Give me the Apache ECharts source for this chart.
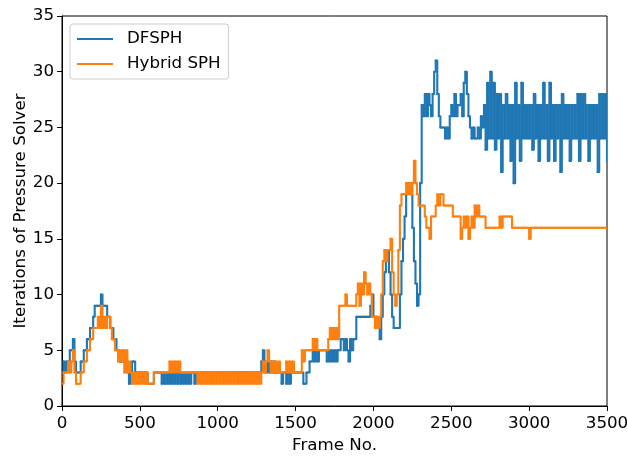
<!DOCTYPE html>
<html>
<head>
<meta charset="utf-8">
<title>Pressure solver iterations</title>
<script src="https://cdn.jsdelivr.net/npm/echarts@6/dist/echarts.min.js"></script>
<style>
  html, body { margin: 0; padding: 0; background: #fff; }
  #chart { width: 628px; height: 456px; }
</style>
</head>
<body>
<div id="chart"></div>
<script>
// frames are sampled every 10 frames
var frameStep = 10;
var xTicks = [0, 500, 1000, 1500, 2000, 2500, 3000, 3500];
var yTicks = [0, 5, 10, 15, 20, 25, 30, 35];
var seriesNames = ['DFSPH', 'Hybrid SPH'];
var seriesColors = ['#1f77b4', '#ff7f0e'];

// DFSPH iterations, one row = 100 frames
var dfsph = [
  3, 4, 3, 4, 4, 5, 5, 6, 4, 3,
  3, 3, 4, 4, 5, 5, 6, 6, 7, 7,
  8, 9, 9, 9, 9, 10, 9, 9, 9, 8,
  8, 7, 7, 6, 6, 5, 5, 4, 4, 4,
  4, 4, 3, 2, 3, 4, 4, 3, 3, 3,
  3, 3, 3, 3, 3, 2, 2, 2, 2, 3,
  3, 3, 3, 3, 2, 3, 2, 3, 2, 3,
  2, 3, 2, 3, 2, 3, 2, 3, 2, 3,
  2, 3, 2, 3, 3, 2, 3, 3, 3, 3,
  3, 3, 3, 3, 3, 3, 3, 3, 3, 3,
  3, 3, 3, 3, 3, 3, 3, 3, 3, 3,
  3, 3, 3, 3, 3, 3, 3, 3, 3, 3,
  3, 3, 3, 3, 3, 3, 3, 3, 4, 5,
  4, 3, 4, 3, 4, 3, 4, 3, 3, 3,
  3, 2, 3, 3, 2, 3, 2, 3, 3, 3,
  3, 3, 3, 3, 3, 2, 2, 3, 3, 4,
  4, 5, 4, 5, 4, 5, 5, 5, 5, 5,
  4, 5, 4, 5, 4, 5, 4, 5, 5, 6,
  6, 5, 6, 5, 4, 6, 5, 6, 6, 8,
  8, 8, 8, 8, 8, 8, 8, 8, 9, 10,
  8, 8, 7, 7, 6, 8, 10, 12, 13, 14,
  12, 10, 8, 7, 7, 7, 7, 10, 13, 15,
  17, 19, 20, 20, 19, 16, 13, 11, 9, 10,
  20, 27, 26, 28, 26, 28, 27, 26, 28, 30,
  31, 28, 26, 25, 25, 25, 24, 25, 24, 26,
  27, 26, 28, 26, 27, 27, 28, 26, 29, 30,
  28, 26, 25, 24, 25, 24, 24, 25, 24, 26,
  25, 27, 23, 29, 24, 30, 24, 29, 23, 28,
  24, 28, 21, 27, 24, 28, 24, 27, 22, 27,
  20, 29, 24, 27, 22, 29, 24, 27, 24, 27,
  24, 27, 23, 28, 24, 27, 22, 27, 24, 29,
  24, 27, 22, 29, 24, 27, 22, 27, 24, 27,
  21, 28, 24, 27, 24, 27, 22, 27, 24, 27,
  24, 28, 22, 28, 24, 28, 24, 27, 22, 27,
  24, 27, 24, 27, 21, 28, 24, 28, 24, 28,
  22
];

// Hybrid SPH iterations, one row = 100 frames
var hybrid = [
  2, 3, 3, 3, 4, 3, 4, 5, 3, 2,
  2, 2, 3, 3, 4, 4, 5, 5, 6, 6,
  7, 7, 7, 8, 7, 9, 7, 8, 7, 8,
  8, 7, 6, 6, 5, 5, 4, 5, 4, 5,
  3, 5, 3, 4, 3, 2, 3, 2, 3, 2,
  3, 2, 3, 2, 3, 2, 2, 2, 2, 3,
  3, 3, 3, 3, 3, 3, 3, 3, 3, 4,
  3, 4, 3, 4, 3, 4, 3, 3, 3, 3,
  3, 3, 3, 3, 3, 3, 3, 2, 3, 2,
  3, 2, 3, 2, 3, 2, 3, 2, 3, 2,
  3, 2, 3, 2, 3, 2, 3, 2, 3, 2,
  3, 2, 3, 2, 3, 2, 3, 2, 3, 2,
  3, 2, 3, 2, 3, 2, 3, 2, 3, 4,
  3, 4, 5, 4, 3, 4, 3, 4, 3, 4,
  3, 3, 3, 3, 4, 3, 4, 3, 4, 3,
  3, 3, 3, 3, 5, 4, 5, 5, 5, 5,
  5, 6, 5, 6, 5, 5, 5, 5, 5, 5,
  5, 6, 7, 6, 7, 6, 7, 6, 9, 9,
  9, 9, 10, 9, 9, 9, 9, 9, 9, 10,
  11, 9, 11, 10, 12, 11, 10, 11, 10, 8,
  8, 7, 8, 7, 8, 10, 13, 14, 13, 14,
  14, 15, 12, 10, 9, 10, 14, 18, 19, 19,
  19, 20, 19, 20, 19, 20, 22, 20, 19, 18,
  18, 18, 18, 17, 16, 16, 15, 17, 17, 17,
  18, 19, 18, 19, 19, 18, 18, 18, 18, 18,
  18, 17, 17, 17, 17, 17, 15, 16, 17, 16,
  17, 15, 16, 17, 16, 18, 17, 18, 17, 17,
  17, 17, 16, 16, 16, 16, 16, 16, 16, 16,
  16, 17, 16, 17, 17, 17, 17, 17, 17, 16,
  16, 16, 16, 16, 16, 16, 16, 16, 16, 16,
  15, 16, 16, 16, 16, 16, 16, 16, 16, 16,
  16, 16, 16, 16, 16, 16, 16, 16, 16, 16,
  16, 16, 16, 16, 16, 16, 16, 16, 16, 16,
  16, 16, 16, 16, 16, 16, 16, 16, 16, 16,
  16, 16, 16, 16, 16, 16, 16, 16, 16, 16,
  16
];

var fontFamily = 'DejaVu Sans';
var fontSize = 16.7;

function toPairs(values) {
  return values.map(function (v, i) { return [i * frameStep, v]; });
}

// each sample draws a step from the previous sample: horizontal, then vertical
// (a line series drops the tiny horizontal pieces, so the dense bands go missing)
function stepSeries(name, color, values) {
  return {
    name: name,
    type: 'custom',
    clip: true,
    silent: true,
    itemStyle: { color: color },
    encode: { x: 0, y: 1 },
    data: toPairs(values),
    renderItem: function (params, api) {
      var i = params.dataIndexInside;
      var cur = api.coord([api.value(0), api.value(1)]);
      if (i === 0) return null;
      var prev = api.coord([api.value(0, i - 1), api.value(1, i - 1)]);
      return {
        type: 'polyline',
        shape: { points: [prev, [cur[0], prev[1]], cur] },
        style: {
          stroke: color,
          fill: null,
          lineWidth: 2.1,
          lineCap: 'round',
          lineJoin: 'round'
        }
      };
    }
  };
}

function renderChart() {
  var container = document.getElementById('chart');
  var myChart = echarts.init(container, null, { renderer: 'canvas' });
  var options = {
    animation: false,
    backgroundColor: '#fff',
    color: seriesColors,
    grid: {
      left: 62,
      right: 21,
      top: 16,
      bottom: 50,
      outerBoundsMode: 'none',
      containLabel: false,
      show: true,
      borderColor: '#000',
      borderWidth: 1,
      backgroundColor: 'transparent'
    },
    legend: {
      data: [
        { name: seriesNames[0], icon: 'rect', itemStyle: { color: seriesColors[0] } },
        { name: seriesNames[1], icon: 'rect', itemStyle: { color: seriesColors[1] } }
      ],
      orient: 'vertical',
      left: 70,
      top: 24,
      itemWidth: 36,
      itemHeight: 2,
      itemGap: 7,
      padding: [6, 8, 6, 7],
      backgroundColor: 'rgba(255,255,255,0.8)',
      borderColor: '#cccccc',
      borderWidth: 1,
      borderRadius: 3,
      textStyle: {
        fontFamily: fontFamily,
        fontSize: fontSize,
        color: '#000',
        lineHeight: 18,
        padding: [0, 0, 0, 9]
      }
    },
    xAxis: {
      type: 'value',
      min: xTicks[0],
      max: xTicks[xTicks.length - 1],
      interval: 500,
      name: 'Frame No.',
      nameLocation: 'middle',
      nameGap: 28,
      nameTextStyle: { fontFamily: fontFamily, fontSize: fontSize, color: '#000' },
      axisLine: { lineStyle: { color: '#000', width: 1 } },
      axisTick: { show: true, inside: false, length: 5, lineStyle: { color: '#000' } },
      axisLabel: {
        fontFamily: fontFamily, fontSize: fontSize, color: '#000', margin: 9,
        formatter: function (v) { return String(v); }
      },
      splitLine: { show: false }
    },
    yAxis: {
      type: 'value',
      min: yTicks[0],
      max: yTicks[yTicks.length - 1],
      interval: 5,
      name: 'Iterations of Pressure Solver',
      nameLocation: 'middle',
      nameGap: 33,
      nameMoveOverlap: false,
      nameTextStyle: { fontFamily: fontFamily, fontSize: fontSize, color: '#000' },
      axisLine: { show: true, lineStyle: { color: '#000', width: 1 } },
      axisTick: { show: true, inside: false, length: 5, lineStyle: { color: '#000' } },
      axisLabel: {
        fontFamily: fontFamily, fontSize: fontSize, color: '#000', margin: 8,
        formatter: function (v) { return String(v); }
      },
      splitLine: { show: false }
    },
    series: [
      stepSeries(seriesNames[0], seriesColors[0], dfsph),
      stepSeries(seriesNames[1], seriesColors[1], hybrid)
    ]
  };

  myChart.setOption(options, true);
}

renderChart();
</script>
</body>
</html>
